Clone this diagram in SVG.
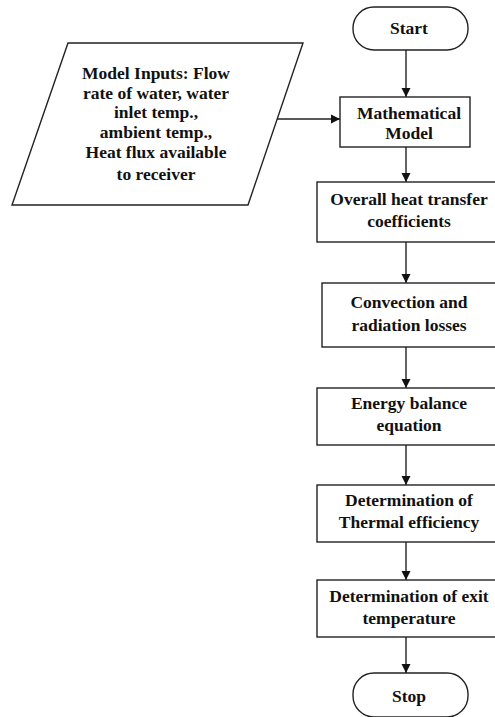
<svg xmlns="http://www.w3.org/2000/svg" width="495" height="717" viewBox="0 0 495 717">
<defs>
<marker id="ah" markerWidth="9" markerHeight="10" refX="9" refY="5" orient="auto" markerUnits="userSpaceOnUse">
<path d="M0,0.5 L9,5 L0,9.5 Z" fill="#111"/>
</marker>
<style>
.s{fill:#fff;stroke:#222;stroke-width:1.4}
.t{font-family:"Liberation Serif","Times New Roman",serif;font-weight:bold;font-size:17.5px;fill:#111;text-anchor:middle}
.c{stroke:#222;stroke-width:1.4;fill:none;marker-end:url(#ah)}
</style>
</defs>
<rect width="495" height="717" fill="#fff"/>
<g id="connectors">
<line class="c" x1="406" y1="50" x2="406" y2="97"/>
<line class="c" x1="277" y1="119" x2="340" y2="119"/>
<line class="c" x1="406" y1="147" x2="406" y2="182"/>
<line class="c" x1="406" y1="242" x2="406" y2="283"/>
<line class="c" x1="406" y1="347" x2="406" y2="388"/>
<line class="c" x1="406" y1="445" x2="406" y2="485"/>
<line class="c" x1="406" y1="542" x2="406" y2="580"/>
<line class="c" x1="406" y1="637" x2="406" y2="673"/>
</g>
<g id="start">
<rect class="s" x="353" y="7" width="115" height="43" rx="21" ry="21"/>
<text class="t" x="409" y="34">Start</text>
</g>
<g id="inputs">
<polygon class="s" points="68,43 303,43 248,205 12,205"/>
<text class="t" x="156" y="79">Model Inputs: Flow</text>
<text class="t" x="156" y="99">rate of water, water</text>
<text class="t" x="156" y="118">inlet temp.,</text>
<text class="t" x="156" y="138">ambient temp.,</text>
<text class="t" x="156" y="158">Heat flux available</text>
<text class="t" x="156" y="180">to receiver</text>
</g>
<g id="model">
<rect class="s" x="340" y="97" width="130" height="50"/>
<text class="t" x="409" y="119">Mathematical</text>
<text class="t" x="409" y="139">Model</text>
</g>
<g id="overall">
<rect class="s" x="317" y="182" width="200" height="60"/>
<text class="t" x="409" y="205">Overall heat transfer</text>
<text class="t" x="409" y="227">coefficients</text>
</g>
<g id="convection">
<rect class="s" x="322" y="283" width="200" height="64"/>
<text class="t" x="409" y="308">Convection and</text>
<text class="t" x="409" y="331">radiation losses</text>
</g>
<g id="energy">
<rect class="s" x="317" y="388" width="200" height="57"/>
<text class="t" x="409" y="409">Energy balance</text>
<text class="t" x="409" y="431">equation</text>
</g>
<g id="thermal">
<rect class="s" x="317" y="485" width="200" height="57"/>
<text class="t" x="409" y="506">Determination of</text>
<text class="t" x="409" y="528">Thermal efficiency</text>
</g>
<g id="exit">
<rect class="s" x="317" y="580" width="200" height="57"/>
<text class="t" x="409" y="602">Determination of exit</text>
<text class="t" x="409" y="624">temperature</text>
</g>
<g id="stop">
<rect class="s" x="353" y="673" width="115" height="44" rx="21" ry="21"/>
<text class="t" x="409" y="702">Stop</text>
</g>
</svg>
